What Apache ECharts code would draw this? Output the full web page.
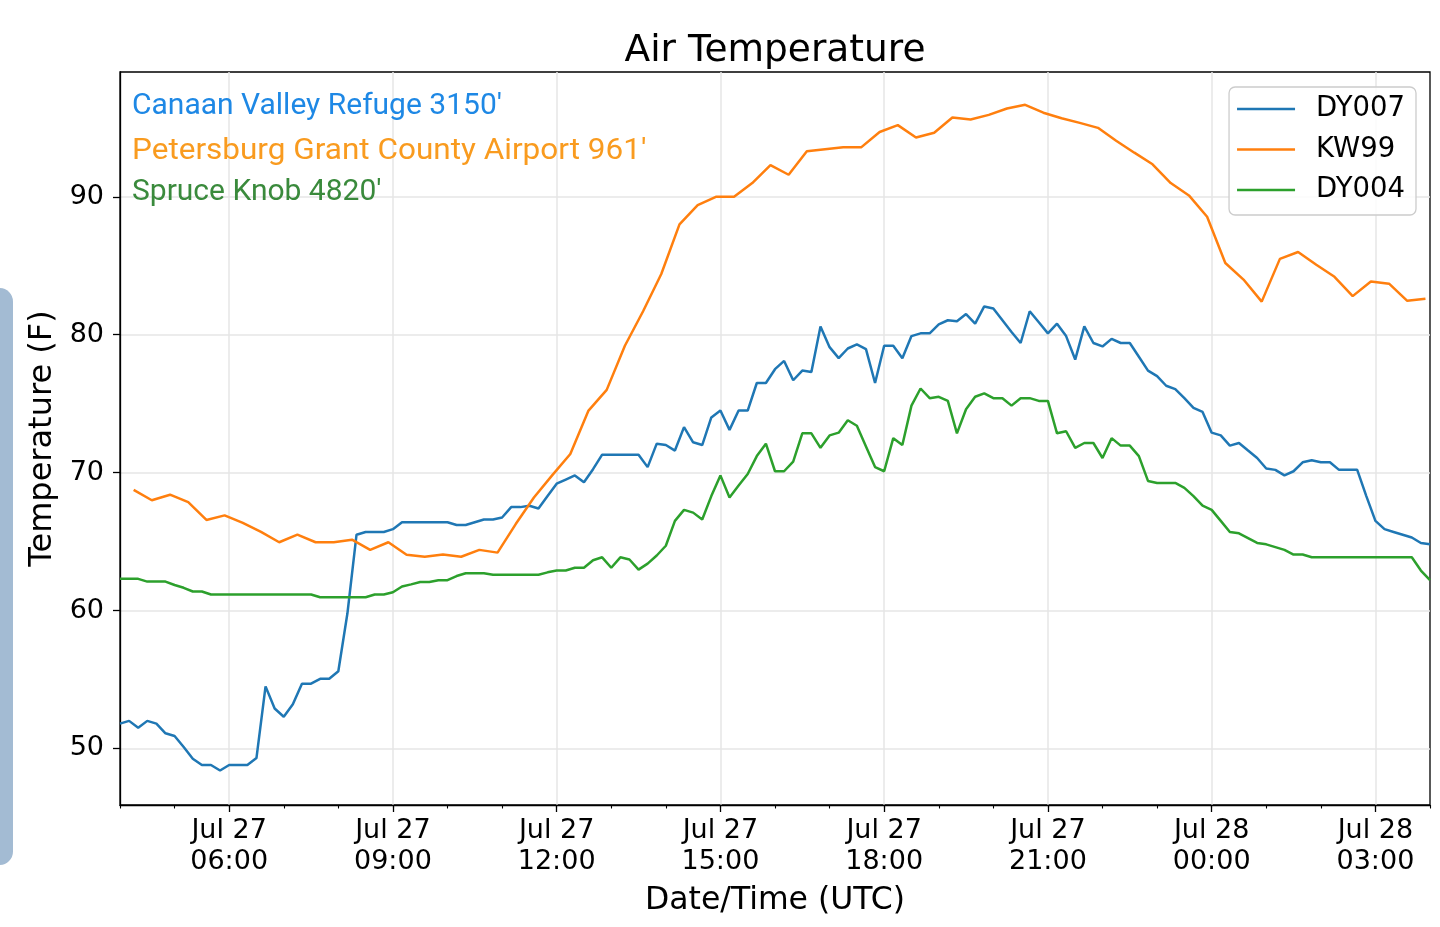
<!DOCTYPE html>
<html>
<head>
<meta charset="utf-8">
<script src="https://cdn.jsdelivr.net/npm/echarts@6/dist/echarts.min.js"></script>
<style>
html, body { margin: 0; padding: 0; background: #ffffff; }
#chart { width: 1440px; height: 927px; }
</style>
</head>
<body>
<div id="chart"></div>
<script>
// ---- data (times in hours since Jul 27 00:00 UTC) ----
const seriesNames = ['DY007', 'KW99', 'DY004'];

const dy007StartHour = 4;
const dy007StepHours = 1 / 6;   // 10-minute observations
const dy007Values = [
  51.8, 52.0, 51.5, 52.0, 51.8, 51.1, 50.9, 50.1, 49.25, 48.8,
  48.8, 48.4, 48.8, 48.8, 48.8, 49.3, 54.5, 52.9, 52.3, 53.2,
  54.7, 54.7, 55.05, 55.05, 55.6, 59.8, 65.5, 65.7, 65.7, 65.7,
  65.9, 66.4, 66.4, 66.4, 66.4, 66.4, 66.4, 66.2, 66.2, 66.4,
  66.6, 66.6, 66.75, 67.5, 67.5, 67.6, 67.4, 68.3, 69.2, 69.5,
  69.8, 69.3, 70.25, 71.3, 71.3, 71.3, 71.3, 71.3, 70.4, 72.1,
  72.0, 71.6, 73.3, 72.2, 72.0, 74.0, 74.5, 73.1, 74.5, 74.5,
  76.5, 76.5, 77.5, 78.1, 76.7, 77.4, 77.3, 80.6, 79.1, 78.3,
  79.0, 79.3, 78.96, 76.5, 79.2, 79.2, 78.3, 79.9, 80.1, 80.1,
  80.75, 81.05, 80.97, 81.5, 80.8, 82.05, 81.9, 81.05, 80.2, 79.4,
  81.7, 80.9, 80.1, 80.8, 79.9, 78.2, 80.6, 79.4, 79.15, 79.7,
  79.4, 79.4, 78.4, 77.4, 77.0, 76.3, 76.06, 75.4, 74.7, 74.4,
  72.9, 72.7, 71.96, 72.15, 71.6, 71.06, 70.3, 70.2, 69.8, 70.1,
  70.75, 70.9, 70.75, 70.75, 70.2, 70.2, 70.2, 68.3, 66.5, 65.9,
  65.7, 65.5, 65.3, 64.9, 64.8
];

const kw99StartHour = 4.25;
const kw99StepHours = 1 / 3;    // 20-minute observations (:15 :35 :55)
const kw99Values = [
  68.75, 68.0, 68.4, 67.86, 66.57, 66.9, 66.35, 65.7, 64.95, 65.5,
  64.95, 64.95, 65.14, 64.4, 64.95, 64.05, 63.9, 64.06, 63.9, 64.4,
  64.2, 66.27, 68.2, 69.8, 71.35, 74.5, 76.0, 79.2, 81.7, 84.4,
  88.0, 89.4, 90.0, 90.0, 91.0, 92.3, 91.6, 93.3, 93.45, 93.6,
  93.6, 94.7, 95.2, 94.3, 94.65, 95.75, 95.6, 95.94, 96.4, 96.67,
  96.1, 95.7, 95.36, 95.0, 94.06, 93.2, 92.36, 91.0, 90.1, 88.55,
  85.2, 84.0, 82.4, 85.5, 86.0, 85.07, 84.2, 82.8, 83.86, 83.7,
  82.46, 82.6
];

const dy004StartHour = 4;
const dy004StepHours = 1 / 6;
const dy004Values = [
  62.3, 62.3, 62.3, 62.1, 62.1, 62.1, 61.85, 61.65, 61.38, 61.38,
  61.16, 61.16, 61.16, 61.16, 61.16, 61.16, 61.16, 61.16, 61.16, 61.16,
  61.16, 61.16, 60.96, 60.96, 60.96, 60.96, 60.96, 60.96, 61.16, 61.16,
  61.33, 61.74, 61.9, 62.07, 62.07, 62.2, 62.2, 62.5, 62.7, 62.7,
  62.7, 62.6, 62.6, 62.6, 62.6, 62.6, 62.6, 62.77, 62.9, 62.9,
  63.1, 63.1, 63.65, 63.86, 63.1, 63.86, 63.7, 62.97, 63.4, 63.99,
  64.7, 66.5, 67.3, 67.1, 66.6, 68.3, 69.8, 68.2, 69.06, 69.9,
  71.2, 72.1, 70.1, 70.1, 70.8, 72.85, 72.85, 71.8, 72.7, 72.9,
  73.8, 73.4, 71.9, 70.4, 70.1, 72.5, 72.0, 74.86, 76.1, 75.4,
  75.5, 75.2, 72.85, 74.6, 75.5, 75.75, 75.4, 75.4, 74.86, 75.4,
  75.4, 75.2, 75.2, 72.85, 73.0, 71.8, 72.15, 72.15, 71.06, 72.5,
  71.96, 71.96, 71.2, 69.4, 69.25, 69.25, 69.25, 68.9, 68.3, 67.6,
  67.3, 66.5, 65.7, 65.6, 65.25, 64.9, 64.8, 64.6, 64.4, 64.06,
  64.06, 63.86, 63.86, 63.86, 63.86, 63.86, 63.86, 63.86, 63.86, 63.86,
  63.86, 63.86, 63.86, 62.9, 62.2
];

const xMinHour = 4;
const xMaxHour = 28;
const majorTickHours = [6, 9, 12, 15, 18, 21, 24, 27];
const majorTickLabels = ['Jul 27\n06:00', 'Jul 27\n09:00', 'Jul 27\n12:00', 'Jul 27\n15:00',
                         'Jul 27\n18:00', 'Jul 27\n21:00', 'Jul 28\n00:00', 'Jul 28\n03:00'];
const yTickValues = [50, 60, 70, 80, 90];
const stationNotes = ["Canaan Valley Refuge 3150'", "Petersburg Grant County Airport 961'", "Spruce Knob 4820'"];
const noteColors = ['#1E88E5', '#F99B1F', '#3A8A3C'];
const lineColors = ['#1f77b4', '#ff7f0e', '#2ca02c'];

// ---- build ----
function toPairs(start, step, values) {
  return values.map((v, i) => [start + i * step, v]);
}
const seriesData = [
  toPairs(dy007StartHour, dy007StepHours, dy007Values),
  toPairs(kw99StartHour, kw99StepHours, kw99Values),
  toPairs(dy004StartHour, dy004StepHours, dy004Values)
];

const FONT = 'DejaVu Sans';
const chart = echarts.init(document.getElementById('chart'), null, { renderer: 'canvas' });

const noteY = [106, 151, 192];
const noteScaleX = [1.0, 1.05, 1.0];

const option = {
  animation: false,
  backgroundColor: '#ffffff',
  title: {
    text: 'Air Temperature',
    left: 775, top: 29, textAlign: 'center', padding: 0,
    textStyle: { fontFamily: FONT, fontSize: 37.5, fontWeight: 'normal', color: '#000', lineHeight: 44 }
  },
  grid: {
    left: 120, top: 72, width: 1310, height: 733,
    show: true, borderColor: '#000', borderWidth: 1.3, backgroundColor: 'transparent'
  },
  legend: {
    orient: 'vertical', right: 24, top: 87,
    data: seriesNames,
    icon: 'rect',
    itemWidth: 58, itemHeight: 2.6, itemGap: 10.5,
    textStyle: { fontFamily: FONT, fontSize: 27.5, color: '#000', lineHeight: 30, padding: [0, 0, 0, 16] },
    borderColor: '#cccccc', borderWidth: 1.3, borderRadius: 6,
    padding: [7, 11, 10, 8],
    backgroundColor: 'rgba(255,255,255,0.85)'
  },
  xAxis: [
    {
      type: 'value', min: xMinHour, max: xMaxHour,
      axisLine: { show: true, onZero: false, lineStyle: { color: '#000', width: 1.3 } },
      axisTick: { show: true, length: 7, customValues: majorTickHours, lineStyle: { color: '#000', width: 1.3 } },
      axisLabel: {
        customValues: majorTickHours, margin: 10,
        fontFamily: FONT, fontSize: 27, color: '#000', lineHeight: 31,
        formatter: function (val) {
          const idx = majorTickHours.findIndex(h => Math.abs(h - val) < 1e-6);
          return idx >= 0 ? majorTickLabels[idx] : '';
        }
      },
      splitLine: { show: true, lineStyle: { color: '#e6e6e6', width: 1.5 } },
      name: 'Date/Time (UTC)', nameLocation: 'middle', nameGap: 69,
      nameTextStyle: { fontFamily: FONT, fontSize: 31.5, color: '#000', lineHeight: 38 }
    },
    {
      type: 'value', min: xMinHour, max: xMaxHour, interval: 1, position: 'bottom',
      axisLine: { show: false },
      axisTick: { show: true, length: 3.5, lineStyle: { color: '#000', width: 1.1 } },
      axisLabel: { show: false },
      splitLine: { show: false }
    }
  ],
  yAxis: {
    type: 'value', min: 45.9, max: 99.05,
    axisLine: { show: true, onZero: false, lineStyle: { color: '#000', width: 1.3 } },
    axisTick: { show: true, length: 7, customValues: yTickValues, lineStyle: { color: '#000', width: 1.3 } },
    axisLabel: { customValues: yTickValues, margin: 16, fontFamily: FONT, fontSize: 27, color: '#000' },
    splitLine: { show: true, lineStyle: { color: '#e6e6e6', width: 1.5 } },
    name: 'Temperature (F)', nameLocation: 'middle', nameGap: 54,
    nameTextStyle: { fontFamily: FONT, fontSize: 32, color: '#000' }
  },
  series: seriesNames.map((name, i) => ({
    name: name,
    type: 'line',
    xAxisIndex: 0,
    data: seriesData[i],
    symbol: 'none',
    showSymbol: false,
    color: lineColors[i],
    lineStyle: { color: lineColors[i], width: 2.5 },
    z: 2 + i
  })),
  graphic: [
    { type: 'rect', silent: true, shape: { x: -14, y: 288, width: 27, height: 577, r: 14 }, style: { fill: '#a3bbd3' } }
  ].concat(stationNotes.map((t, i) => ({
    type: 'text', silent: true, z: 50,
    x: 132, y: noteY[i], scaleX: noteScaleX[i],
    style: { text: t, fontFamily: 'Roboto', fontSize: 30, fill: noteColors[i], align: 'left', verticalAlign: 'middle' }
  })))
};
chart.setOption(option);
</script>
</body>
</html>
